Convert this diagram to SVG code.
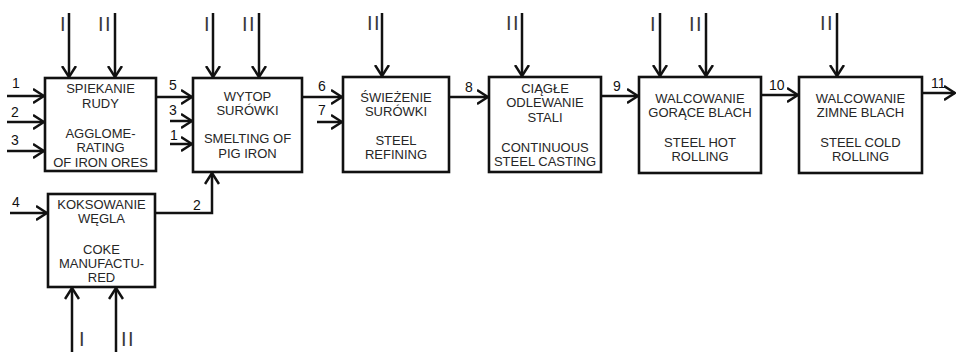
<svg xmlns="http://www.w3.org/2000/svg" width="958" height="352" viewBox="0 0 958 352">
<style>
.box{fill:#fff;stroke:#111;stroke-width:2.6}
.bt{font-family:"Liberation Sans",Arial,sans-serif;font-size:13px;fill:#262626;text-anchor:middle}
.num{font-family:"Liberation Sans",Arial,sans-serif;font-size:14px;fill:#111}
.rom{font-family:"Liberation Sans",Arial,sans-serif;font-size:20px;fill:#3a3a3a;letter-spacing:1.5px}
.ln{fill:none;stroke:#111;stroke-width:2.5}
.ar{marker-end:url(#arr)}
</style>
<defs>
<marker id="arr" viewBox="0 0 12 16" refX="11.5" refY="8" markerWidth="12" markerHeight="16" markerUnits="userSpaceOnUse" orient="auto">
<path d="M0.5,1 L11.5,8 L0.5,15" fill="none" stroke="#111" stroke-width="2.5"/>
</marker>
</defs>
<rect width="958" height="352" fill="#fff"/>

<g id="connectors">
<line class="ln ar" x1="69" y1="13" x2="69" y2="77"/>
<line class="ln ar" x1="115" y1="13" x2="115" y2="77"/>
<line class="ln ar" x1="213" y1="13" x2="213" y2="77"/>
<line class="ln ar" x1="259" y1="13" x2="259" y2="77"/>
<line class="ln ar" x1="382" y1="13" x2="382" y2="76"/>
<line class="ln ar" x1="522" y1="13" x2="522" y2="76"/>
<line class="ln ar" x1="660" y1="13" x2="660" y2="76"/>
<line class="ln ar" x1="706" y1="13" x2="706" y2="76"/>
<line class="ln ar" x1="837" y1="13" x2="837" y2="76"/>
<line class="ln ar" x1="72" y1="352" x2="72" y2="288"/>
<line class="ln ar" x1="116" y1="352" x2="116" y2="288"/>
<line class="ln ar" x1="7" y1="96" x2="44" y2="96"/>
<line class="ln ar" x1="7" y1="122" x2="44" y2="122"/>
<line class="ln ar" x1="7" y1="151" x2="44" y2="151"/>
<line class="ln ar" x1="156" y1="97" x2="192" y2="97"/>
<line class="ln ar" x1="170" y1="121" x2="192" y2="121"/>
<line class="ln ar" x1="170" y1="144" x2="192" y2="144"/>
<line class="ln ar" x1="302" y1="97" x2="342" y2="97"/>
<line class="ln ar" x1="317" y1="122" x2="342" y2="122"/>
<line class="ln ar" x1="449" y1="97" x2="488" y2="97"/>
<line class="ln ar" x1="601" y1="96" x2="638" y2="96"/>
<line class="ln ar" x1="761" y1="95" x2="798" y2="95"/>
<line class="ln ar" x1="922" y1="93" x2="955" y2="93"/>
<line class="ln ar" x1="10" y1="213" x2="47" y2="213"/>
<polyline class="ln ar" points="155,213 212,213 212,173"/>
</g>

<g id="labels">
<text class="rom" x="60" y="31">I</text>
<text class="rom" x="98" y="31">II</text>
<text class="rom" x="204" y="31">I</text>
<text class="rom" x="242" y="31">II</text>
<text class="rom" x="367" y="30">II</text>
<text class="rom" x="506" y="30">II</text>
<text class="rom" x="650" y="31">I</text>
<text class="rom" x="689" y="31">II</text>
<text class="rom" x="820" y="30">II</text>
<text class="rom" x="79" y="346">I</text>
<text class="rom" x="121" y="346">II</text>

<text class="num" x="12" y="88">1</text>
<text class="num" x="11" y="117">2</text>
<text class="num" x="11" y="145">3</text>
<text class="num" x="169" y="90">5</text>
<text class="num" x="169" y="115">3</text>
<text class="num" x="170" y="140">1</text>
<text class="num" x="318" y="91">6</text>
<text class="num" x="318" y="115">7</text>
<text class="num" x="465" y="92">8</text>
<text class="num" x="613" y="91">9</text>
<text class="num" x="769" y="90">10</text>
<text class="num" x="931" y="88">11</text>
<text class="num" x="12" y="207">4</text>
<text class="num" x="193" y="210">2</text>
</g>

<g id="n1">
<rect class="box" x="45" y="78" width="111" height="93"/>
<text class="bt" x="100.5" y="93">SPIEKANIE</text>
<text class="bt" x="100.5" y="108">RUDY</text>
<text class="bt" x="100.5" y="138">AGGLOME-</text>
<text class="bt" x="100.5" y="152">RATING</text>
<text class="bt" x="100.5" y="166.5">OF IRON ORES</text>
</g>

<g id="n2">
<rect class="box" x="193" y="78" width="109" height="94"/>
<text class="bt" x="247.5" y="101">WYTOP</text>
<text class="bt" x="247.5" y="115">SURÓWKI</text>
<text class="bt" x="247.5" y="143">SMELTING OF</text>
<text class="bt" x="247.5" y="158">PIG IRON</text>
</g>

<g id="n3">
<rect class="box" x="343" y="77" width="106" height="95"/>
<text class="bt" x="396" y="102">ŚWIEŻENIE</text>
<text class="bt" x="396" y="116">SURÓWKI</text>
<text class="bt" x="396" y="145">STEEL</text>
<text class="bt" x="396" y="159">REFINING</text>
</g>

<g id="n4">
<rect class="box" x="489" y="77" width="112" height="95"/>
<text class="bt" x="545" y="93">CIĄGŁE</text>
<text class="bt" x="545" y="107">ODLEWANIE</text>
<text class="bt" x="545" y="122">STALI</text>
<text class="bt" x="545" y="152">CONTINUOUS</text>
<text class="bt" x="545" y="166">STEEL CASTING</text>
</g>

<g id="n5">
<rect class="box" x="639" y="77" width="122" height="96"/>
<text class="bt" x="700" y="103">WALCOWANIE</text>
<text class="bt" x="700" y="117">GORĄCE BLACH</text>
<text class="bt" x="700" y="147">STEEL HOT</text>
<text class="bt" x="700" y="161">ROLLING</text>
</g>

<g id="n6">
<rect class="box" x="799" y="77" width="123" height="96"/>
<text class="bt" x="860.5" y="103">WALCOWANIE</text>
<text class="bt" x="860.5" y="117">ZIMNE BLACH</text>
<text class="bt" x="860.5" y="147">STEEL COLD</text>
<text class="bt" x="860.5" y="161">ROLLING</text>
</g>

<g id="n7">
<rect class="box" x="48" y="194" width="107" height="93"/>
<text class="bt" x="101.5" y="208.5">KOKSOWANIE</text>
<text class="bt" x="101.5" y="223">WĘGLA</text>
<text class="bt" x="101.5" y="254">COKE</text>
<text class="bt" x="101.5" y="268">MANUFACTU-</text>
<text class="bt" x="101.5" y="282">RED</text>
</g>
</svg>
